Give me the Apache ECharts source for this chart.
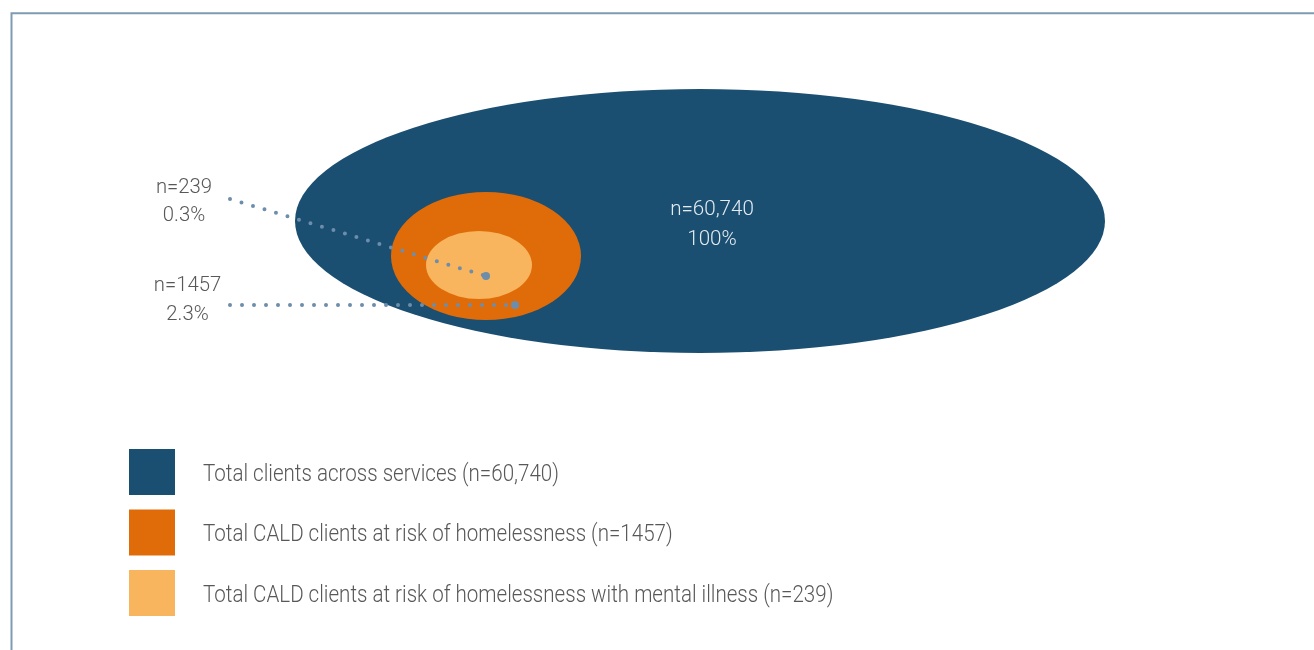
<!DOCTYPE html>
<html>
<head>
<meta charset="utf-8">
<script src="https://cdn.jsdelivr.net/npm/echarts@6/dist/echarts.min.js"></script>
<style>
html,body{margin:0;padding:0;background:#fff;}
#chart{width:1314px;height:650px;}
</style>
</head>
<body>
<div id="chart"></div>
<script>
// ---- data ----
const categories = [
  'Total clients across services',
  'Total CALD clients at risk of homelessness',
  'Total CALD clients at risk of homelessness with mental illness'
];
const counts = [60740, 1457, 239];
const countLabels = ['n=60,740', 'n=1457', 'n=239'];
const shareLabels = ['100%', '2.3%', '0.3%'];

// ---- layout & style (not data) ----
const colors = ['#1A4F72', '#E06C09', '#F8B55D'];
const ellipses = [
  {cx: 700, cy: 221, rx: 405, ry: 132},
  {cx: 486, cy: 256, rx: 95, ry: 64},
  {cx: 479, cy: 265, rx: 53, ry: 34}
];
const callouts = {
  2: {tx: 184, ty1: 187.5, ty2: 215.5, from: [230, 199], to: [486, 276]},
  1: {tx: 187.5, ty1: 285.5, ty2: 314.5, from: [230, 305], to: [515, 305]}
};
const mainLabelPos = {x: 712, y1: 210, y2: 240};
const legendPos = {left: 129, top: 449, step: 60.5, size: 46, textGap: 28};
const textColor = '#585858';
const dotColor = '#6C8DAB';
const fontFamily = 'Roboto, "Open Sans", sans-serif';

const chart = echarts.init(document.getElementById('chart'), null, {renderer: 'canvas'});

function txt(p, text, opts) {
  return {
    type: 'text',
    x: p[0], y: p[1],
    scaleX: opts.scaleX || 1,
    style: {
      text: text,
      x: 0, y: 0,
      fill: opts.fill || textColor,
      fontFamily: fontFamily,
      fontWeight: 300,
      fontSize: opts.fontSize || 20,
      align: opts.align || 'center',
      verticalAlign: 'middle'
    }
  };
}

const idx = counts.map((c, i) => [i, c]);

const series = [
  {
    type: 'custom',
    name: 'ellipses',
    coordinateSystem: 'cartesian2d',
    data: idx,
    z: 1,
    silent: true,
    renderItem: function (params, api) {
      const i = api.value(0);
      const e = ellipses[i];
      const c = api.coord([e.cx, e.cy]);
      const s = api.size([e.rx, e.ry]);
      const rx = Math.abs(s[0]), ry = Math.abs(s[1]);
      return {
        type: 'circle',
        x: c[0], y: c[1],
        scaleY: ry / rx,
        shape: {cx: 0, cy: 0, r: rx},
        style: {fill: colors[i]}
      };
    }
  },
  {
    type: 'custom',
    name: 'labels',
    coordinateSystem: 'cartesian2d',
    data: idx,
    z: 5,
    silent: true,
    renderItem: function (params, api) {
      const i = api.value(0);
      const children = [];
      if (i === 0) {
        children.push(txt(api.coord([mainLabelPos.x, mainLabelPos.y1]), countLabels[i], {fill: '#E4EBF1', fontSize: 21, scaleX: 0.98}));
        children.push(txt(api.coord([mainLabelPos.x, mainLabelPos.y2]), shareLabels[i], {fill: '#E4EBF1', fontSize: 21, scaleX: 0.98}));
      } else {
        const co = callouts[i];
        children.push(txt(api.coord([co.tx, co.ty1]), countLabels[i], {fontSize: 20.5, scaleX: 0.99}));
        children.push(txt(api.coord([co.tx, co.ty2]), shareLabels[i], {fontSize: 20.5, scaleX: 0.99}));
      }
      return {type: 'group', children: children};
    }
  },
  {
    type: 'custom',
    name: 'legend',
    coordinateSystem: 'cartesian2d',
    data: idx,
    z: 5,
    silent: true,
    renderItem: function (params, api) {
      const i = api.value(0);
      const top = legendPos.top + i * legendPos.step;
      const p = api.coord([legendPos.left, top]);
      const s = api.size([legendPos.size, legendPos.size]);
      const w = Math.abs(s[0]), h = Math.abs(s[1]);
      return {
        type: 'group',
        children: [
          {type: 'rect', shape: {x: p[0], y: p[1], width: w, height: h}, style: {fill: colors[i]}},
          txt([p[0] + w + legendPos.textGap, p[1] + h / 2 + 3],
              categories[i] + ' (' + countLabels[i] + ')',
              {align: 'left', fontSize: 23.5, scaleX: 0.875})
        ]
      };
    }
  }
];

Object.keys(callouts).forEach(function (k) {
  const co = callouts[k];
  series.push({
    type: 'line',
    name: 'leader-' + k,
    data: [co.from, co.to],
    z: 4,
    silent: true,
    showSymbol: true,
    symbol: 'circle',
    symbolSize: function (val, params) { return params.dataIndex === 1 ? 8 : 0; },
    itemStyle: {color: dotColor},
    lineStyle: {color: dotColor, width: 4, type: [0, 12], cap: 'round'},
    animation: false
  });
});

chart.setOption({
  animation: false,
  backgroundColor: '#ffffff',
  grid: {left: 0, right: 0, top: 0, bottom: 0},
  xAxis: {type: 'value', min: 0, max: 1314, show: false},
  yAxis: {type: 'value', min: 0, max: 650, inverse: true, show: false},
  graphic: [{
    type: 'rect',
    left: 9, top: 10.8,
    shape: {x: 0, y: 0, width: 1330, height: 660},
    style: {fill: 'none', stroke: '#7F9BB3', lineWidth: 2},
    silent: true,
    z: 0
  }],
  series: series
});
</script>
</body>
</html>
